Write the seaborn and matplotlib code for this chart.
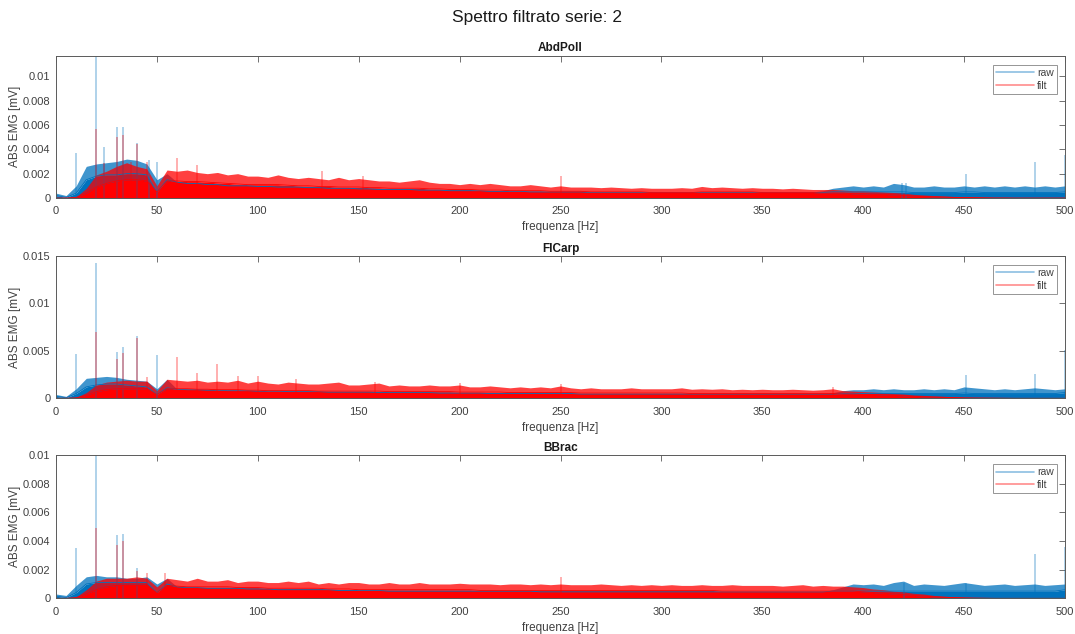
import numpy as np
import matplotlib
matplotlib.use("Agg")
import matplotlib.pyplot as plt
from matplotlib.lines import Line2D
from matplotlib.ticker import FuncFormatter
import seaborn as sns

# Frequency grid of the amplitude profiles (Hz)
freq_hz = np.arange(0, 501, 5)

# Amplitude profiles in microvolt: "core" = dense band, "peak" = band tips
abd_raw_core = [
    0.2, 0.05, 0.4, 1.5, 1.8, 1.9, 1.9, 2.0, 2.0, 1.9,
    0.5, 1.5, 1.3, 1.2, 1.2, 1.1, 1.1, 1.0, 1.0, 1.0,
    0.95, 0.95, 0.9, 0.9, 0.9, 0.85, 0.85, 0.8, 0.8, 0.8,
    0.75, 0.75, 0.7, 0.7, 0.7, 0.7, 0.65, 0.65, 0.65, 0.6,
    0.6, 0.6, 0.6, 0.55, 0.55, 0.55, 0.55, 0.5, 0.5, 0.5,
    0.5, 0.5, 0.5, 0.45, 0.45, 0.45, 0.45, 0.45, 0.45, 0.45,
    0.45, 0.45, 0.45, 0.45, 0.45, 0.45, 0.45, 0.45, 0.45, 0.45,
    0.45, 0.45, 0.45, 0.45, 0.45, 0.45, 0.45, 0.5, 0.5, 0.5,
    0.5, 0.5, 0.5, 0.5, 0.5, 0.45, 0.45, 0.45, 0.45, 0.45,
    0.5, 0.5, 0.45, 0.45, 0.45, 0.45, 0.45, 0.45, 0.45, 0.45,
    0.5]
abd_raw_peak = [
    0.4, 0.2, 1.0, 2.6, 2.8, 2.9, 3.0, 3.2, 3.1, 2.8,
    1.5, 2.0, 1.3, 1.2, 1.2, 1.1, 1.1, 1.0, 1.0, 1.0,
    0.95, 0.95, 0.9, 0.9, 0.9, 0.85, 0.85, 0.8, 0.8, 0.8,
    0.75, 0.75, 0.7, 0.7, 0.7, 0.7, 0.65, 0.65, 0.65, 0.6,
    0.6, 0.6, 0.6, 0.55, 0.55, 0.55, 0.55, 0.5, 0.5, 0.5,
    0.5, 0.5, 0.5, 0.45, 0.45, 0.45, 0.45, 0.45, 0.45, 0.45,
    0.45, 0.45, 0.45, 0.45, 0.45, 0.45, 0.45, 0.45, 0.45, 0.45,
    0.45, 0.45, 0.45, 0.45, 0.45, 0.5, 0.6, 0.8, 0.9, 1.0,
    0.9, 1.0, 0.9, 1.2, 1.1, 0.9, 0.9, 1.0, 0.9, 0.9,
    1.0, 0.9, 1.0, 0.9, 1.0, 0.9, 1.0, 0.9, 1.0, 0.9,
    1.0]
abd_filt_core = [
    0, 0, 0.05, 0.4, 0.9, 1.2, 1.4, 1.5, 1.5, 1.4,
    0.5, 1.4, 1.4, 1.35, 1.35, 1.3, 1.25, 1.2, 1.15, 1.1,
    1.1, 1.1, 1.1, 1.05, 1.0, 1.0, 0.95, 0.95, 0.9, 0.9,
    0.9, 0.85, 0.85, 0.8, 0.8, 0.8, 0.8, 0.75, 0.75, 0.7,
    0.7, 0.7, 0.65, 0.65, 0.65, 0.6, 0.6, 0.6, 0.6, 0.55,
    0.55, 0.55, 0.55, 0.5, 0.5, 0.5, 0.5, 0.5, 0.5, 0.45,
    0.45, 0.45, 0.45, 0.45, 0.5, 0.5, 0.5, 0.5, 0.5, 0.5,
    0.45, 0.45, 0.45, 0.45, 0.45, 0.45, 0.4, 0.4, 0.4, 0.35,
    0.35, 0.3, 0.3, 0.25, 0.2, 0.15, 0.12, 0.1, 0.08, 0.05,
    0.04, 0.03, 0.02, 0.01, 0.01, 0, 0, 0, 0, 0,
    0]
abd_filt_peak = [
    0, 0, 0.1, 0.8, 1.9, 2.2, 2.6, 2.9, 2.6, 2.4,
    1.0, 2.3, 2.2, 2.3, 2.1, 2.0, 2.1, 1.9, 2.0, 1.8,
    1.8, 1.7, 1.9, 1.7, 1.6, 1.7, 1.6, 1.5, 1.7, 1.5,
    1.6, 1.5, 1.4, 1.4, 1.3, 1.4, 1.5, 1.3, 1.2, 1.2,
    1.1, 1.2, 1.1, 1.2, 1.1, 1.0, 1.0, 1.1, 1.0, 0.9,
    1.0, 0.9, 0.9, 0.9, 0.85, 0.9, 0.85, 0.8, 0.85, 0.8,
    0.8, 0.8, 0.85, 0.8, 0.95, 0.85, 0.9, 0.85, 0.8, 0.85,
    0.8, 0.8, 0.75, 0.8, 0.75, 0.7, 0.7, 0.7, 0.65, 0.6,
    0.6, 0.55, 0.5, 0.45, 0.4, 0.3, 0.25, 0.2, 0.15, 0.12,
    0.1, 0.08, 0.06, 0.04, 0.03, 0.02, 0.01, 0.01, 0, 0,
    0]

fl_raw_core = [
    0.2, 0.05, 0.5, 1.2, 1.4, 1.5, 1.5, 1.4, 1.3, 1.2,
    0.4, 1.1, 0.95, 0.9, 0.9, 0.85, 0.85, 0.8, 0.8, 0.8,
    0.75, 0.75, 0.75, 0.7, 0.7, 0.7, 0.7, 0.65, 0.65, 0.65,
    0.65, 0.65, 0.6, 0.6, 0.6, 0.6, 0.6, 0.6, 0.55, 0.55,
    0.55, 0.55, 0.55, 0.5, 0.5, 0.5, 0.5, 0.5, 0.5, 0.5,
    0.5, 0.5, 0.45, 0.45, 0.45, 0.45, 0.45, 0.45, 0.45, 0.45,
    0.45, 0.45, 0.45, 0.45, 0.45, 0.45, 0.45, 0.45, 0.45, 0.45,
    0.45, 0.45, 0.45, 0.45, 0.45, 0.45, 0.45, 0.45, 0.5, 0.5,
    0.5, 0.5, 0.5, 0.5, 0.5, 0.5, 0.5, 0.5, 0.5, 0.5,
    0.55, 0.5, 0.5, 0.5, 0.5, 0.5, 0.5, 0.5, 0.5, 0.5,
    0.6]
fl_raw_peak = [
    0.4, 0.2, 1.0, 2.1, 2.2, 2.3, 2.2, 2.0, 1.9, 1.8,
    1.0, 2.0, 0.95, 0.9, 0.9, 0.85, 0.85, 0.8, 0.8, 0.8,
    0.75, 0.75, 0.75, 0.7, 0.7, 0.7, 0.7, 0.65, 0.65, 0.65,
    0.65, 0.65, 0.6, 0.6, 0.6, 0.6, 0.6, 0.6, 0.55, 0.55,
    0.55, 0.55, 0.55, 0.5, 0.5, 0.5, 0.5, 0.5, 0.5, 0.5,
    0.5, 0.5, 0.45, 0.45, 0.45, 0.45, 0.45, 0.45, 0.45, 0.45,
    0.45, 0.45, 0.45, 0.45, 0.45, 0.45, 0.45, 0.45, 0.45, 0.45,
    0.45, 0.45, 0.45, 0.45, 0.45, 0.45, 0.45, 0.6, 0.8, 0.9,
    0.9, 1.0, 0.9, 1.0, 0.9, 0.9, 1.0, 0.9, 1.0, 0.9,
    1.2, 1.1, 1.0, 0.9, 1.0, 0.9, 1.0, 1.1, 1.0, 0.9,
    1.0]
fl_filt_core = [
    0, 0, 0.05, 0.3, 0.7, 0.9, 1.0, 1.0, 1.0, 1.0,
    0.4, 1.0, 1.0, 1.0, 0.95, 0.95, 0.9, 0.9, 0.9, 0.85,
    0.85, 0.8, 0.8, 0.8, 0.8, 0.8, 0.75, 0.75, 0.75, 0.75,
    0.75, 0.75, 0.75, 0.7, 0.7, 0.7, 0.7, 0.7, 0.7, 0.7,
    0.65, 0.65, 0.65, 0.65, 0.65, 0.6, 0.6, 0.6, 0.6, 0.6,
    0.6, 0.6, 0.55, 0.55, 0.55, 0.55, 0.55, 0.55, 0.55, 0.55,
    0.55, 0.55, 0.55, 0.5, 0.5, 0.5, 0.5, 0.5, 0.5, 0.5,
    0.5, 0.5, 0.5, 0.5, 0.5, 0.5, 0.5, 0.5, 0.45, 0.45,
    0.4, 0.4, 0.35, 0.3, 0.25, 0.2, 0.15, 0.12, 0.1, 0.07,
    0.05, 0.04, 0.03, 0.02, 0.01, 0, 0, 0, 0, 0,
    0]
fl_filt_peak = [
    0, 0, 0.1, 0.6, 1.4, 1.7, 1.8, 1.9, 1.8, 1.8,
    0.8, 2.0, 1.9, 1.8, 1.9, 1.7, 1.8, 1.7, 1.9, 1.6,
    1.8, 1.6, 1.5, 1.7, 1.6, 1.5, 1.5, 1.6, 1.7, 1.4,
    1.4, 1.5, 1.6, 1.3, 1.4, 1.3, 1.3, 1.4, 1.3, 1.3,
    1.4, 1.2, 1.2, 1.3, 1.2, 1.1, 1.2, 1.1, 1.2, 1.1,
    1.3, 1.1, 1.0, 1.1, 1.0, 1.0, 1.0, 1.1, 1.0, 1.0,
    1.0, 1.0, 1.1, 0.95, 1.0, 0.95, 1.0, 0.9, 0.95, 0.9,
    0.95, 0.9, 0.9, 0.95, 0.9, 0.85, 0.9, 1.0, 0.8, 0.75,
    0.7, 0.65, 0.6, 0.5, 0.45, 0.35, 0.3, 0.25, 0.2, 0.15,
    0.1, 0.08, 0.06, 0.04, 0.03, 0.02, 0.01, 0.01, 0, 0,
    0]

bb_raw_core = [
    0.15, 0.05, 0.4, 1.0, 1.1, 1.1, 1.1, 1.1, 1.1, 1.1,
    0.4, 1.0, 0.8, 0.75, 0.75, 0.7, 0.7, 0.7, 0.7, 0.65,
    0.65, 0.65, 0.6, 0.6, 0.6, 0.6, 0.6, 0.6, 0.55, 0.55,
    0.55, 0.55, 0.55, 0.5, 0.5, 0.5, 0.5, 0.5, 0.5, 0.5,
    0.5, 0.5, 0.5, 0.5, 0.5, 0.5, 0.5, 0.5, 0.45, 0.45,
    0.45, 0.45, 0.45, 0.45, 0.45, 0.45, 0.45, 0.45, 0.45, 0.45,
    0.45, 0.45, 0.45, 0.45, 0.45, 0.45, 0.45, 0.45, 0.45, 0.45,
    0.45, 0.45, 0.45, 0.45, 0.45, 0.45, 0.45, 0.5, 0.5, 0.5,
    0.5, 0.5, 0.5, 0.5, 0.5, 0.5, 0.5, 0.5, 0.5, 0.5,
    0.5, 0.5, 0.5, 0.5, 0.5, 0.5, 0.5, 0.5, 0.5, 0.5,
    0.6]
bb_raw_peak = [
    0.3, 0.2, 0.9, 1.5, 1.6, 1.5, 1.5, 1.4, 1.4, 1.5,
    1.0, 1.4, 0.8, 0.75, 0.75, 0.7, 0.7, 0.7, 0.7, 0.65,
    0.65, 0.65, 0.6, 0.6, 0.6, 0.6, 0.6, 0.6, 0.55, 0.55,
    0.55, 0.55, 0.55, 0.5, 0.5, 0.5, 0.5, 0.5, 0.5, 0.5,
    0.5, 0.5, 0.5, 0.5, 0.5, 0.5, 0.5, 0.5, 0.45, 0.45,
    0.45, 0.45, 0.45, 0.45, 0.45, 0.45, 0.45, 0.45, 0.45, 0.45,
    0.45, 0.45, 0.45, 0.45, 0.45, 0.45, 0.45, 0.45, 0.45, 0.45,
    0.45, 0.45, 0.45, 0.45, 0.45, 0.45, 0.45, 0.6, 0.8, 1.0,
    0.95, 1.0, 0.9, 1.1, 1.2, 0.9, 1.0, 0.95, 0.9, 1.0,
    1.1, 1.0, 0.9, 0.95, 1.0, 0.9, 0.95, 1.0, 0.9, 0.95,
    1.0]
bb_filt_core = [
    0, 0, 0.05, 0.3, 0.6, 0.8, 0.9, 0.9, 0.9, 0.9,
    0.4, 0.9, 0.85, 0.8, 0.8, 0.8, 0.8, 0.8, 0.75, 0.75,
    0.75, 0.7, 0.7, 0.7, 0.7, 0.7, 0.7, 0.65, 0.65, 0.65,
    0.6, 0.6, 0.6, 0.6, 0.6, 0.6, 0.6, 0.6, 0.6, 0.6,
    0.6, 0.6, 0.55, 0.55, 0.55, 0.55, 0.55, 0.55, 0.55, 0.55,
    0.55, 0.55, 0.55, 0.55, 0.55, 0.55, 0.55, 0.55, 0.55, 0.55,
    0.55, 0.55, 0.55, 0.55, 0.55, 0.55, 0.5, 0.5, 0.5, 0.5,
    0.5, 0.5, 0.5, 0.5, 0.5, 0.5, 0.5, 0.5, 0.5, 0.5,
    0.45, 0.4, 0.35, 0.3, 0.25, 0.2, 0.15, 0.1, 0.07, 0.05,
    0.03, 0.02, 0.01, 0, 0, 0, 0, 0, 0, 0,
    0]
bb_filt_peak = [
    0, 0, 0.1, 0.6, 1.2, 1.4, 1.4, 1.4, 1.5, 1.4,
    0.8, 1.4, 1.3, 1.2, 1.4, 1.2, 1.2, 1.3, 1.1, 1.2,
    1.2, 1.1, 1.1, 1.2, 1.1, 1.2, 1.0, 1.1, 1.0, 1.1,
    1.1, 1.0, 1.0, 1.1, 1.0, 1.0, 1.1, 1.0, 1.0, 1.0,
    1.05, 1.0, 1.0, 1.0, 0.95, 1.0, 1.0, 0.95, 1.0, 0.95,
    1.0, 0.95, 0.95, 0.95, 1.0, 0.95, 0.9, 0.95, 0.9, 0.95,
    0.9, 0.95, 0.9, 0.9, 0.95, 0.9, 0.9, 0.95, 0.9, 0.9,
    0.9, 0.9, 0.85, 0.9, 0.95, 0.85, 0.9, 0.85, 0.85, 0.8,
    0.75, 0.65, 0.6, 0.5, 0.45, 0.35, 0.3, 0.2, 0.15, 0.1,
    0.08, 0.05, 0.03, 0.02, 0.01, 0, 0, 0, 0, 0,
    0]

# Isolated spectral lines: frequency (Hz) and amplitude (microvolt)
abd_raw_spike_f = [10, 20, 24, 30, 33, 40, 46, 50, 419, 421, 451, 485, 500]
abd_raw_spike_a = [3.7, 11.7, 4.2, 5.8, 5.8, 4.5, 3.1, 3.0, 1.2, 1.2, 2.0, 3.0, 3.5]
abd_filt_spike_f = [20, 24, 30, 33, 37, 40, 45, 60, 70, 132, 152, 250]
abd_filt_spike_a = [5.7, 2.9, 5.0, 5.2, 3.0, 4.4, 3.0, 3.3, 2.7, 2.2, 1.8, 1.8]

fl_raw_spike_f = [10, 20, 30, 33, 40, 50, 451, 485, 500]
fl_raw_spike_a = [4.7, 14.2, 4.9, 5.4, 6.6, 4.6, 2.45, 2.56, 5.1]
fl_filt_spike_f = [20, 30, 33, 40, 45, 60, 70, 80, 90, 100, 119, 158, 200, 250, 385]
fl_filt_spike_a = [7.0, 4.1, 4.8, 6.3, 2.2, 4.3, 2.7, 3.6, 2.3, 2.3, 2.0, 1.75, 1.65, 1.5, 1.2]

bb_raw_spike_f = [10, 20, 30, 33, 40, 420, 451, 485, 500]
bb_raw_spike_a = [3.5, 10.0, 4.4, 4.5, 2.1, 1.1, 1.1, 3.1, 3.6]
bb_filt_spike_f = [20, 30, 33, 40, 45, 54, 250]
bb_filt_spike_a = [4.9, 3.7, 4.0, 1.9, 1.8, 1.8, 1.5]

muscles = ["AbdPoll", "FlCarp", "BBrac"]
y_limits_mV = [0.0117, 0.015, 0.01]
y_tick_steps_mV = [0.002, 0.005, 0.002]

panels = [
    (abd_raw_core, abd_raw_peak, abd_filt_core, abd_filt_peak,
     abd_raw_spike_f, abd_raw_spike_a, abd_filt_spike_f, abd_filt_spike_a),
    (fl_raw_core, fl_raw_peak, fl_filt_core, fl_filt_peak,
     fl_raw_spike_f, fl_raw_spike_a, fl_filt_spike_f, fl_filt_spike_a),
    (bb_raw_core, bb_raw_peak, bb_filt_core, bb_filt_peak,
     bb_raw_spike_f, bb_raw_spike_a, bb_filt_spike_f, bb_filt_spike_a),
]

RAW_COLOR = "#0072BD"
FILT_COLOR = "#FF0000"
TEXT_COLOR = "#404040"
AXIS_COLOR = "#5a5a5a"

sns.set_theme(style="white")
plt.rcParams["font.family"] = ["Liberation Sans", "DejaVu Sans"]

fig = plt.figure(figsize=(10.75, 6.34), dpi=100)
fig.patch.set_facecolor("white")

axes_boxes = [
    (0.0521, 0.6877, 0.9386, 0.2245),
    (0.0521, 0.3718, 0.9386, 0.2249),
    (0.0521, 0.0563, 0.9386, 0.2260),
]

uv = 1e-3  # microvolt -> millivolt


def draw_series(ax, core, peak, spike_f, spike_a, color):
    core_mv = np.asarray(core) * uv
    peak_mv = np.asarray(peak) * uv
    # dense part of the spectrum
    ax.fill_between(freq_hz, 0, core_mv, color=color, lw=0)
    sns.lineplot(x=freq_hz, y=core_mv, ax=ax, color=color, lw=0.6)
    # tips of the spectrum above the dense band
    ax.fill_between(freq_hz, core_mv, peak_mv, color=color, lw=0, alpha=0.75)
    # isolated lines
    ax.vlines(spike_f, 0, np.asarray(spike_a) * uv, color=color,
              alpha=0.4, lw=1.1)


for box, name, ymax, ystep, data in zip(
        axes_boxes, muscles, y_limits_mV, y_tick_steps_mV, panels):
    (raw_core, raw_peak, filt_core, filt_peak,
     raw_sf, raw_sa, filt_sf, filt_sa) = data
    ax = fig.add_axes(box)
    draw_series(ax, raw_core, raw_peak, raw_sf, raw_sa, RAW_COLOR)
    draw_series(ax, filt_core, filt_peak, filt_sf, filt_sa, FILT_COLOR)

    ax.set_xlim(0, 500)
    ax.set_ylim(0, ymax)
    ax.set_xticks(np.arange(0, 501, 50))
    ax.set_yticks(np.arange(0, ymax + 1e-9, ystep))
    ax.yaxis.set_major_formatter(FuncFormatter(lambda v, p: f"{v:g}"))
    ax.tick_params(direction="in", top=True, right=True, length=4,
                   width=0.6, colors=AXIS_COLOR, labelsize=8,
                   labelcolor=TEXT_COLOR)
    ax.tick_params(axis="x", pad=6)
    ax.tick_params(axis="y", pad=4)
    for sp in ax.spines.values():
        sp.set_color(AXIS_COLOR)
        sp.set_linewidth(0.7)
    ax.set_xlabel("frequenza [Hz]", fontsize=8.5, color=TEXT_COLOR)
    ax.set_ylabel("ABS EMG [mV]", fontsize=8.5, color=TEXT_COLOR)
    ax.xaxis.set_label_coords(0.5, -0.165)
    ax.yaxis.set_label_coords(-0.0345, 0.5)
    ax.set_title(name, fontsize=8.5, fontweight="bold", color="#1a1a1a", pad=3)

    handles = [Line2D([], [], color=RAW_COLOR, alpha=0.45, lw=1.2),
               Line2D([], [], color=FILT_COLOR, alpha=0.45, lw=1.2)]
    leg = ax.legend(handles, ["raw", "filt"], loc="upper right", fontsize=7.5,
                    frameon=True, fancybox=False, handlelength=3.6,
                    handletextpad=0.3, borderpad=0.3, labelspacing=0.25,
                    borderaxespad=0, bbox_to_anchor=(0.992, 0.935))
    leg.get_frame().set_edgecolor("#7a7a7a")
    leg.get_frame().set_linewidth(0.7)
    for t in leg.get_texts():
        t.set_color(TEXT_COLOR)

fig.suptitle("Spettro filtrato serie: 2", fontsize=12.5, color="#1a1a1a",
             y=0.985)

fig.savefig("out.png", dpi=100, facecolor="white")
